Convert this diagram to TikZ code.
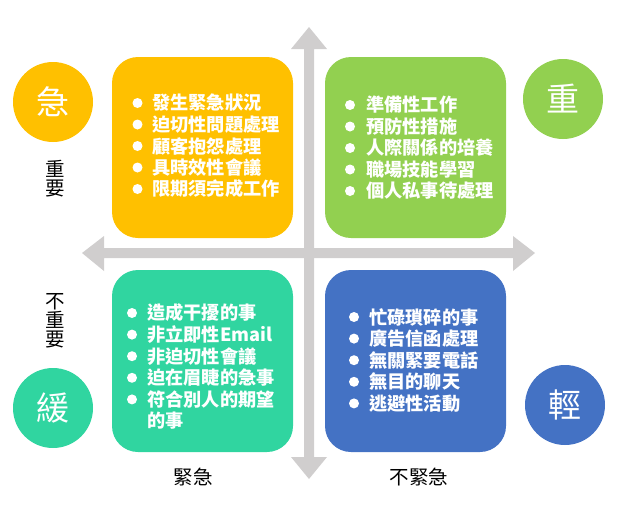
\documentclass[tikz,border=0pt]{standalone}
\usepackage{fontspec}
\setmainfont{Noto Sans CJK TC}
\newfontfamily\cjk{Noto Sans CJK TC}
\definecolor{cyel}{HTML}{FFC000}
\definecolor{cgrn}{HTML}{92D050}
\definecolor{cteal}{HTML}{30D5A0}
\definecolor{cblue}{HTML}{4472C4}
\definecolor{cgray}{HTML}{D0CECE}
\tikzset{
  quad/.style={rounded corners=26pt, draw=none},
  badge/.style={circle, minimum size=80pt, inner sep=0pt, text=white, font=\cjk\fontsize{33}{33}\selectfont},
  item/.style={anchor=west, inner sep=0pt, text=white, font=\cjk\bfseries\fontsize{18.2}{21.5}\selectfont},
  axislabel/.style={inner sep=0pt, text=black, align=center, font=\cjk\fontsize{19.5}{19}\selectfont},
  axisarrow/.style={fill=cgray, draw=none}
}
\begin{document}
\begin{tikzpicture}[x=1pt,y=-1pt]
\useasboundingbox (0,0) rectangle (619,523);
% axes
\coordinate (vt) at (309,27);
\coordinate (vb) at (309,479);
\coordinate (hl) at (82,253);
\coordinate (hr) at (535,253);
\fill[axisarrow] (304,49) -- (291,49) -- (vt) -- (327,49) -- (314,49) -- (314,457) -- (327,457) -- (vb) -- (291,457) -- (304,457) -- cycle;
\fill[axisarrow] (104,248) -- (104,236) -- (hl) -- (104,271) -- (104,258) -- (513,258) -- (513,271) -- (hr) -- (513,236) -- (513,248) -- cycle;
% quadrants
\fill[quad, cyel] (112,57) rectangle (293,238);
\fill[quad, cgrn] (325,57) rectangle (506,238);
\fill[quad, cteal] (112,270) rectangle (293,452);
\fill[quad, cblue] (325,270) rectangle (506,452);
% badges
\node[badge, fill=cyel] (ji) at (53,102) {急};
\node[badge, fill=cgrn] (zhong) at (563,99) {重};
\node[badge, fill=cteal] (huan) at (53,408) {緩};
\node[badge, fill=cblue] (qing) at (565,405) {輕};
% axis labels
\node[axislabel] (imp) at (55,179) {重\\要};
\node[axislabel] (unimp) at (55,321) {不\\重\\要};
\node[axislabel] (urg) at (193,477) {緊急};
\node[axislabel] (nurg) at (419,477) {不緊急};
% items
\foreach \t [count=\i] in {發生緊急狀況,迫切性問題處理,顧客抱怨處理,具時效性會議,限期須完成工作}{
  \fill[white] (137.5,{103+(\i-1)*21.5}) circle (5pt);
  \node[item] (a\i) at (152,{103+(\i-1)*21.5}) {\t};
}
\foreach \t [count=\i] in {準備性工作,預防性措施,人際關係的培養,職場技能學習,個人私事待處理}{
  \fill[white] (350,{105+(\i-1)*21.5}) circle (5pt);
  \node[item] (b\i) at (366,{105+(\i-1)*21.5}) {\t};
}
\foreach \t [count=\i] in {造成干擾的事,非立即性Email,非迫切性會議,迫在眉睫的急事,符合別人的期望}{
  \fill[white] (132,{313+(\i-1)*21.6}) circle (5pt);
  \node[item] (c\i) at (147,{313+(\i-1)*21.6}) {\t};
}
\node[item] (c6) at (147,{313+5*21.6}) {的事};
\foreach \t [count=\i] in {忙碌瑣碎的事,廣告信函處理,無關緊要電話,無目的聊天,逃避性活動}{
  \fill[white] (354,{317+(\i-1)*21.6}) circle (5pt);
  \node[item] (d\i) at (369,{317+(\i-1)*21.6}) {\t};
}
\end{tikzpicture}
\end{document}
